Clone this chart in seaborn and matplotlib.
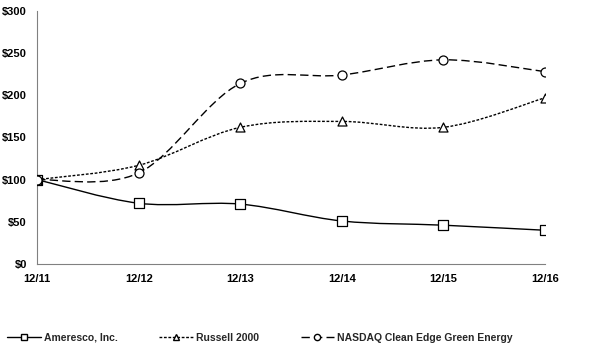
import numpy as np
import pandas as pd
import seaborn as sns
import matplotlib.pyplot as plt
from matplotlib.path import Path
from matplotlib.patches import PathPatch
from matplotlib.lines import Line2D

periods = ['12/11', '12/12', '12/13', '12/14', '12/15', '12/16']
ameresco = [100, 72, 71, 51, 46, 40]
russell = [100, 117, 162, 169, 162, 197]
nasdaq = [100, 108, 214, 224, 242, 228]

series = ['Ameresco, Inc.', 'Russell 2000', 'NASDAQ Clean Edge Green Energy']
df = pd.DataFrame({
    'period': periods * 3,
    'x': list(range(len(periods))) * 3,
    'value': ameresco + russell + nasdaq,
    'series': np.repeat(series, len(periods)),
})

styles = {
    'Ameresco, Inc.': dict(marker='s', dashes=None),
    'Russell 2000': dict(marker='^', dashes=(2, 1.2)),
    'NASDAQ Clean Edge Green Energy': dict(marker='o', dashes=(6, 3)),
}

sns.set_style('white')
plt.rcParams['font.family'] = ['Liberation Sans', 'DejaVu Sans']
plt.rcParams['font.weight'] = 'bold'

fig = plt.figure(figsize=(5.91, 3.52), dpi=100)
ax = fig.add_axes([0.063, 0.25, 0.859, 0.719])


def smooth_path(xs, ys):
    # Excel-style smoothed line as cubic bezier segments
    pts = np.column_stack([xs, ys]).astype(float)
    verts = [pts[0]]
    codes = [Path.MOVETO]
    n = len(pts)
    for i in range(n - 1):
        p0 = pts[i - 1] if i > 0 else pts[i]
        p1, p2 = pts[i], pts[i + 1]
        p3 = pts[i + 2] if i + 2 < n else pts[i + 1]
        c1 = p1 + (p2 - p0) / 6
        c2 = p2 - (p3 - p1) / 6
        verts += [c1, c2, p2]
        codes += [Path.CURVE4] * 3
    return Path(verts, codes)


handles = []
for name in series:
    sub = df[df['series'] == name]
    st = styles[name]
    patch = PathPatch(smooth_path(sub['x'], sub['value']), fill=False,
                      edgecolor='black', lw=1.0, zorder=2)
    if st['dashes']:
        patch.set_linestyle((0, st['dashes']))
    ax.add_patch(patch)
    sns.scatterplot(data=sub, x='x', y='value', marker=st['marker'], s=42,
                    facecolor='white', edgecolor='black', linewidth=0.9,
                    ax=ax, zorder=3, legend=False)
    h = Line2D([], [], color='black', lw=1.0, marker=st['marker'],
               markersize=4.5, markerfacecolor='white', markeredgecolor='black')
    if st['dashes']:
        h.set_dashes(st['dashes'])
    handles.append(h)

ax.set_xlim(0, len(periods) - 1)
ax.set_ylim(0, 300)
ax.set_xticks(range(len(periods)))
ax.set_xticklabels(periods)
ax.set_yticks(range(0, 301, 50))
ax.set_yticklabels([f'${v}' for v in range(0, 301, 50)])
ax.set_xlabel('')
ax.set_ylabel('')
for s in ['top', 'right']:
    ax.spines[s].set_visible(False)
for s in ['left', 'bottom']:
    ax.spines[s].set_color('#808080')
    ax.spines[s].set_linewidth(0.8)
ax.tick_params(axis='both', labelsize=8, colors='black', length=4,
               direction='out', width=0.8, color='#808080')
ax.tick_params(axis='x', pad=3)
for lab in ax.get_xticklabels() + ax.get_yticklabels():
    lab.set_fontweight('bold')

fig.legend(handles, series, loc='lower center', bbox_to_anchor=(0.44, 0.0),
           ncol=3, frameon=False, handlelength=3.2,
           columnspacing=4.0, handletextpad=0.3,
           prop={'weight': 'bold', 'size': 7.5})

fig.savefig('out.png', dpi=100)
